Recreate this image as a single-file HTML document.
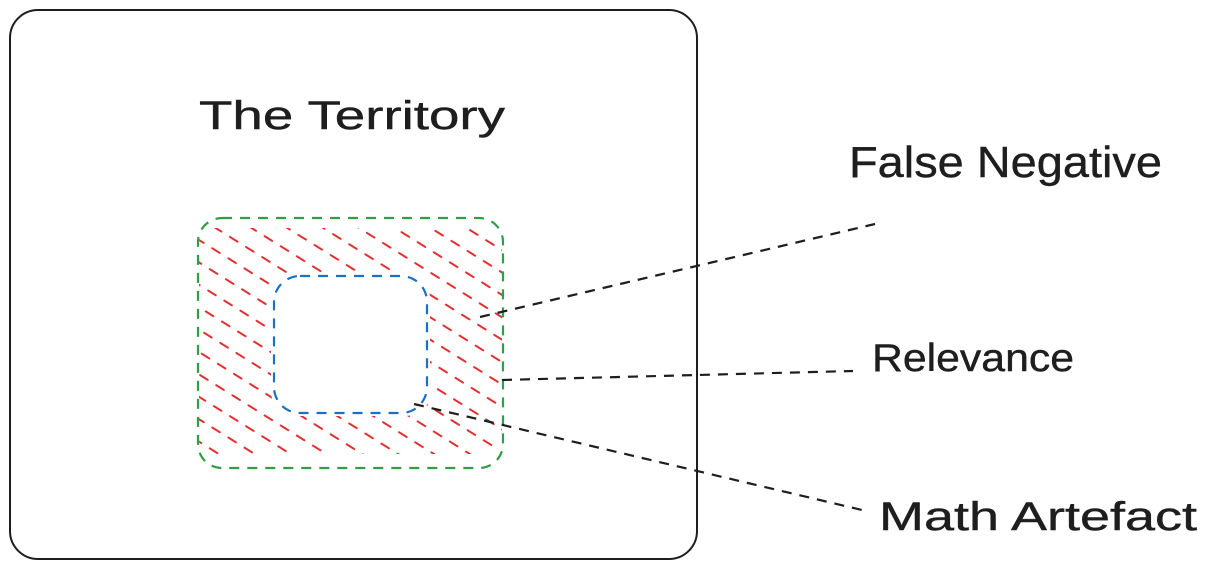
<!DOCTYPE html>
<html>
<head>
<meta charset="utf-8">
<style>
  html,body{margin:0;padding:0;background:#ffffff;}
  body{width:1211px;height:570px;overflow:hidden;}
  svg{display:block;}
  text{font-family:"Liberation Sans","DejaVu Sans",sans-serif;fill:#1e1e1e;stroke:#1e1e1e;stroke-width:0.4;}
</style>
</head>
<body>
<svg width="1211" height="570" viewBox="0 0 1211 570" xmlns="http://www.w3.org/2000/svg">
  <defs>
    <pattern id="hatch" patternUnits="userSpaceOnUse" width="19" height="38" patternTransform="translate(200,230) rotate(32)">
      <line x1="1" y1="9" x2="10" y2="9" stroke="#e03131" stroke-width="2" stroke-linecap="round"/>
      <line x1="10" y1="28" x2="19" y2="28" stroke="#e03131" stroke-width="2" stroke-linecap="round"/>
      <line x1="-9" y1="28" x2="0" y2="28" stroke="#e03131" stroke-width="2" stroke-linecap="round"/>
    </pattern>
  </defs>

  <!-- outer territory box -->
  <rect x="10" y="10" width="687" height="549" rx="28" ry="28" fill="none" stroke="#1e1e1e" stroke-width="2"/>

  <!-- hatch region: green ring minus blue box -->
  <path fill="url(#hatch)" fill-rule="evenodd"
        d="M214 228 H488 Q502 228 502 242 V440 Q502 454 488 454 H214 Q199 454 199 440 V242 Q199 228 214 228 Z
           M300 273 H403 Q430 273 430 300 V390 Q430 416 403 416 H300 Q271 416 271 390 V300 Q271 273 300 273 Z"/>

  <!-- green dashed box -->
  <rect x="198" y="218" width="305" height="250" rx="24" ry="24" fill="none" stroke="#2f9e44" stroke-width="2.2" stroke-dasharray="10 8"/>

  <!-- blue dashed box -->
  <rect x="274" y="276" width="153" height="137" rx="26" ry="26" fill="none" stroke="#1971c2" stroke-width="2.2" stroke-dasharray="10 8"/>

  <!-- connectors -->
  <line x1="480" y1="317" x2="875" y2="224" stroke="#1e1e1e" stroke-width="2.2" stroke-dasharray="10 8"/>
  <line x1="502" y1="380" x2="853" y2="371" stroke="#1e1e1e" stroke-width="2.2" stroke-dasharray="10 8"/>
  <line x1="414" y1="404" x2="862" y2="510" stroke="#1e1e1e" stroke-width="2.2" stroke-dasharray="10 8"/>

  <!-- labels -->
  <text x="199" y="129" font-size="40" textLength="306" lengthAdjust="spacingAndGlyphs">The Territory</text>
  <text x="849" y="177" font-size="44" textLength="313" lengthAdjust="spacingAndGlyphs">False Negative</text>
  <text x="872" y="371" font-size="39" textLength="202" lengthAdjust="spacingAndGlyphs">Relevance</text>
  <text x="879" y="530" font-size="40" textLength="318" lengthAdjust="spacingAndGlyphs">Math Artefact</text>
</svg>
</body>
</html>
